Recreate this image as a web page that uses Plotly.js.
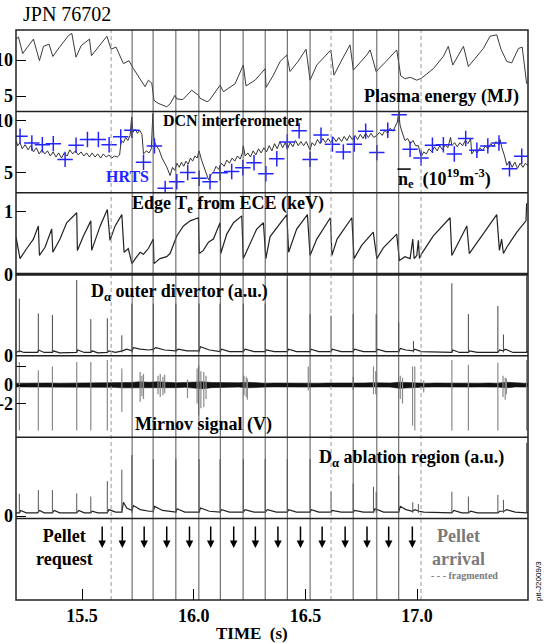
<!DOCTYPE html>
<html><head><meta charset="utf-8">
<script src="https://cdn.plot.ly/plotly-3.0.1.min.js"></script>
<style>html,body{margin:0;padding:0;background:#fff}#chart{width:554px;height:643px}</style>
</head><body><div id="chart"></div>
<script>
// ---------- DATA ----------
const timeTicks = [15.5, 16.0, 16.5, 17.0, 17.5];
const timeTickText = ['15.5', '16.0', '16.5', '17.0', '17.5'];

// Plasma energy (MJ): [time, value]
const energy = [[15.204,12.9],[15.215,13.2],[15.234,10.9],[15.282,12.9],[15.309,9.9],[15.327,11.9],[15.352,12.2],[15.369,10.5],[15.397,11.7],[15.439,13.4],[15.454,13.7],[15.473,10.4],[15.496,12.0],[15.533,12.9],[15.542,10.6],[15.611,13.3],[15.630,11.5],[15.652,11.8],[15.685,9.5],[15.710,9.9],[15.730,8.8],[15.782,6.3],[15.797,7.2],[15.812,6.8],[15.822,4.4],[15.840,4.0],[15.879,3.5],[15.894,3.9],[15.916,5.1],[15.924,4.6],[15.951,4.5],[15.991,5.8],[16.021,5.1],[16.028,4.7],[16.060,4.2],[16.070,4.4],[16.118,6.5],[16.133,5.6],[16.185,6.7],[16.222,9.3],[16.234,6.4],[16.275,7.2],[16.320,8.8],[16.324,6.2],[16.355,7.8],[16.387,9.8],[16.417,10.7],[16.431,8.4],[16.467,9.8],[16.503,11.5],[16.521,7.2],[16.551,9.3],[16.614,11.4],[16.628,7.9],[16.663,10.0],[16.700,12.1],[16.715,8.6],[16.775,10.7],[16.790,11.4],[16.817,8.4],[16.861,9.8],[16.909,11.4],[16.927,7.8],[16.947,7.4],[16.969,7.6],[16.999,7.2],[17.021,7.5],[17.073,8.8],[17.118,10.5],[17.140,11.9],[17.160,9.3],[17.208,11.9],[17.230,9.1],[17.297,11.6],[17.327,13.3],[17.357,13.5],[17.376,11.5],[17.402,9.8],[17.424,9.6],[17.454,11.6],[17.471,11.8],[17.491,6.7]];

// DCN interferometer line-averaged density (1e19 m^-3): [time, value]
const dcn = [[15.204,8.1],[15.212,7.6],[15.222,7.9],[15.232,7.3],[15.245,7.7],[15.258,7.2],[15.270,7.6],[15.282,7.0],[15.295,7.4],[15.308,6.8],[15.320,7.2],[15.333,6.8],[15.345,7.1],[15.358,6.6],[15.370,7.0],[15.383,6.5],[15.395,6.9],[15.408,6.4],[15.420,6.9],[15.433,6.6],[15.445,7.2],[15.458,6.8],[15.470,7.1],[15.483,6.7],[15.495,7.0],[15.508,6.6],[15.520,6.9],[15.533,6.5],[15.545,6.9],[15.558,6.5],[15.570,6.8],[15.583,6.4],[15.595,6.8],[15.608,6.5],[15.620,6.7],[15.633,6.4],[15.645,6.6],[15.658,6.5],[15.668,6.7],[15.675,8.1],[15.685,7.9],[15.695,8.4],[15.705,8.1],[15.715,8.6],[15.722,10.4],[15.728,8.9],[15.738,9.2],[15.748,8.8],[15.758,9.1],[15.768,8.7],[15.775,6.8],[15.788,7.1],[15.800,6.9],[15.810,7.3],[15.817,10.75],[15.822,8.1],[15.832,7.6],[15.845,7.2],[15.858,6.4],[15.870,5.9],[15.880,5.5],[15.894,4.7],[15.905,5.5],[15.915,5.2],[15.925,5.9],[15.935,5.5],[15.945,6.0],[15.955,5.6],[15.965,6.1],[15.975,5.8],[15.985,6.4],[15.995,6.1],[16.005,6.6],[16.015,6.4],[16.024,7.1],[16.035,6.2],[16.045,5.6],[16.055,4.9],[16.066,4.3],[16.078,4.8],[16.090,5.1],[16.100,5.6],[16.112,5.3],[16.124,5.9],[16.136,5.6],[16.148,6.2],[16.160,5.9],[16.172,6.4],[16.184,6.1],[16.196,6.6],[16.208,6.3],[16.218,6.9],[16.222,7.6],[16.230,6.6],[16.242,6.9],[16.254,6.5],[16.266,7.1],[16.278,6.7],[16.290,7.3],[16.302,6.9],[16.314,7.4],[16.326,7.0],[16.338,7.6],[16.350,7.1],[16.362,7.8],[16.374,7.3],[16.386,8.0],[16.398,7.4],[16.410,7.9],[16.420,7.3],[16.432,7.9],[16.444,7.5],[16.456,8.1],[16.468,7.6],[16.480,8.0],[16.492,7.6],[16.504,8.0],[16.516,7.4],[16.521,7.2],[16.530,7.9],[16.542,7.6],[16.554,8.2],[16.566,7.8],[16.578,8.3],[16.590,7.9],[16.602,8.3],[16.614,7.9],[16.626,8.4],[16.638,8.0],[16.650,8.4],[16.662,8.0],[16.674,8.5],[16.686,8.1],[16.698,8.6],[16.710,8.2],[16.722,8.6],[16.734,8.2],[16.746,8.7],[16.758,8.3],[16.770,8.8],[16.782,8.4],[16.794,8.8],[16.806,8.4],[16.820,8.6],[16.832,8.9],[16.844,8.6],[16.856,9.1],[16.868,8.8],[16.880,9.3],[16.892,9.0],[16.904,9.6],[16.912,9.9],[16.918,10.9],[16.924,9.6],[16.932,9.0],[16.946,8.1],[16.958,8.3],[16.970,7.8],[16.982,8.1],[16.994,7.6],[17.006,7.6],[17.018,6.5],[17.030,7.0],[17.042,6.8],[17.054,7.3],[17.066,7.0],[17.078,7.5],[17.090,7.1],[17.102,7.6],[17.114,7.2],[17.126,7.7],[17.138,7.4],[17.150,8.4],[17.156,7.6],[17.168,7.9],[17.180,7.5],[17.192,7.9],[17.204,7.6],[17.216,8.1],[17.228,7.8],[17.240,8.3],[17.245,6.8],[17.258,7.2],[17.270,6.9],[17.282,7.4],[17.294,7.1],[17.306,7.6],[17.318,7.3],[17.330,7.8],[17.342,7.5],[17.354,8.0],[17.366,7.7],[17.372,8.2],[17.380,7.4],[17.392,6.6],[17.402,5.7],[17.414,6.1],[17.426,5.5],[17.438,6.0],[17.450,5.4],[17.462,5.9],[17.474,5.5],[17.486,5.9],[17.498,5.6]];

// HRTS density points
const hrtsTime = [15.222,15.275,15.322,15.371,15.424,15.473,15.524,15.573,15.621,15.673,15.723,15.775,15.824,15.872,15.924,15.973,16.024,16.073,16.118,16.170,16.220,16.270,16.323,16.372,16.419,16.472,16.521,16.570,16.621,16.670,16.719,16.770,16.820,16.869,16.920,16.969,17.018,17.069,17.118,17.167,17.218,17.268,17.317,17.367,17.414,17.469];
const hrtsNe = [8.53,7.87,7.7,7.8,6.27,7.65,8.2,8.2,7.7,8.46,9.1,6.0,7.58,3.46,4.1,5.0,4.44,4.1,4.97,5.1,5.46,5.95,4.87,6.34,7.97,9.05,6.27,8.63,7.75,7.0,7.75,9.0,6.93,9.1,10.6,7.25,6.4,7.65,7.7,6.8,8.3,7.16,7.58,7.87,5.36,6.57];

// Edge Te from ECE (keV): [time, value]
const edgeTe = [[15.204,0.59],[15.222,0.25],[15.252,0.41],[15.282,0.56],[15.304,0.77],[15.309,0.30],[15.334,0.43],[15.364,0.72],[15.369,0.35],[15.401,0.56],[15.431,0.82],[15.476,0.98],[15.479,0.38],[15.506,0.61],[15.539,0.85],[15.543,0.38],[15.581,0.77],[15.613,1.03],[15.625,0.54],[15.648,0.77],[15.678,0.95],[15.688,0.35],[15.707,0.41],[15.723,0.17],[15.745,0.28],[15.760,0.35],[15.775,0.32],[15.797,0.41],[15.819,0.56],[15.822,0.17],[15.849,0.25],[15.879,0.28],[15.894,0.33],[15.916,0.54],[15.924,0.61],[15.954,0.77],[15.984,0.85],[16.021,0.90],[16.025,0.33],[16.043,0.38],[16.066,0.51],[16.088,0.56],[16.118,0.82],[16.121,0.33],[16.148,0.64],[16.178,0.82],[16.215,0.93],[16.222,0.25],[16.245,0.43],[16.282,0.72],[16.312,0.82],[16.323,0.25],[16.342,0.60],[16.387,0.80],[16.417,0.95],[16.425,0.35],[16.461,0.72],[16.509,0.95],[16.521,0.30],[16.551,0.56],[16.612,0.90],[16.619,0.30],[16.642,0.56],[16.708,0.90],[16.718,0.25],[16.752,0.46],[16.804,0.67],[16.820,0.25],[16.849,0.42],[16.909,0.64],[16.921,0.22],[16.946,0.28],[16.969,0.25],[16.981,0.56],[16.987,0.25],[16.999,0.30],[17.006,0.54],[17.011,0.25],[17.021,0.33],[17.073,0.61],[17.148,0.90],[17.156,0.30],[17.193,0.56],[17.223,0.77],[17.234,0.33],[17.297,0.64],[17.357,0.95],[17.369,0.38],[17.379,0.56],[17.387,0.33],[17.402,0.43],[17.447,0.67],[17.488,0.85],[17.491,1.13]];

// D-alpha outer divertor (a.u.): baseline [time, value] and ELM spikes [time, peak]
const divBase = [[15.204,0.04],[15.22,0.06],[15.24,0.04],[15.30,0.04],[15.305,0.07],[15.33,0.04],[15.368,0.04],[15.37,0.06],[15.40,0.035],[15.476,0.04],[15.48,0.07],[15.51,0.04],[15.54,0.04],[15.545,0.06],[15.57,0.035],[15.613,0.04],[15.62,0.06],[15.65,0.04],[15.68,0.06],[15.70,0.08],[15.723,0.06],[15.73,0.10],[15.76,0.08],[15.80,0.07],[15.82,0.08],[15.83,0.10],[15.87,0.07],[15.92,0.06],[15.93,0.08],[15.97,0.06],[16.024,0.06],[16.03,0.11],[16.07,0.07],[16.118,0.05],[16.125,0.08],[16.16,0.05],[16.222,0.05],[16.23,0.08],[16.27,0.05],[16.32,0.05],[16.325,0.07],[16.36,0.05],[16.419,0.05],[16.425,0.08],[16.46,0.05],[16.521,0.05],[16.525,0.08],[16.56,0.05],[16.615,0.05],[16.62,0.08],[16.66,0.05],[16.714,0.05],[16.72,0.08],[16.76,0.05],[16.817,0.05],[16.822,0.08],[16.86,0.05],[16.918,0.05],[16.925,0.09],[16.95,0.07],[16.984,0.06],[16.99,0.08],[17.02,0.05],[17.156,0.04],[17.16,0.07],[17.19,0.04],[17.23,0.04],[17.235,0.06],[17.27,0.04],[17.362,0.04],[17.37,0.07],[17.387,0.06],[17.395,0.08],[17.43,0.04],[17.49,0.04],[17.5,0.06]];
const divSpikes = [[15.219,0.70],[15.304,0.52],[15.367,0.50],[15.476,0.93],[15.539,0.45],[15.613,0.46],[15.678,0.25],[15.723,0.64],[15.819,0.64],[15.920,0.64],[16.024,0.64],[16.118,0.64],[16.222,0.64],[16.320,0.64],[16.419,0.95],[16.521,0.51],[16.615,0.49],[16.714,0.51],[16.817,0.51],[16.918,0.41],[16.984,0.18],[17.156,0.89],[17.230,0.51],[17.362,0.61],[17.387,0.26],[17.491,0.98]];

// Mirnov signal (V): noise envelope [time, upper, lower] and spikes [time, top, bottom]
const mirnovEnv = [[15.204,0.2,-0.2],[15.25,0.22,-0.2],[15.30,0.2,-0.22],[15.35,0.22,-0.2],[15.40,0.2,-0.2],[15.45,0.22,-0.22],[15.50,0.2,-0.2],[15.55,0.22,-0.2],[15.60,0.2,-0.22],[15.64,0.25,-0.25],[15.68,0.3,-0.3],[15.72,0.28,-0.3],[15.76,0.35,-0.35],[15.80,0.3,-0.3],[15.84,0.35,-0.35],[15.88,0.3,-0.3],[15.92,0.25,-0.28],[15.96,0.28,-0.25],[16.00,0.3,-0.35],[16.04,0.35,-0.4],[16.08,0.28,-0.28],[16.12,0.25,-0.25],[16.16,0.22,-0.25],[16.20,0.25,-0.22],[16.24,0.3,-0.3],[16.28,0.22,-0.22],[16.32,0.2,-0.22],[16.36,0.22,-0.2],[16.40,0.2,-0.22],[16.44,0.22,-0.2],[16.48,0.2,-0.2],[16.52,0.22,-0.22],[16.56,0.2,-0.2],[16.60,0.22,-0.2],[16.64,0.2,-0.22],[16.68,0.22,-0.2],[16.72,0.2,-0.2],[16.76,0.22,-0.22],[16.80,0.25,-0.25],[16.84,0.2,-0.2],[16.88,0.22,-0.22],[16.92,0.3,-0.35],[16.96,0.25,-0.28],[17.00,0.22,-0.25],[17.04,0.2,-0.22],[17.08,0.22,-0.2],[17.12,0.2,-0.22],[17.16,0.22,-0.2],[17.20,0.2,-0.2],[17.24,0.22,-0.22],[17.28,0.2,-0.2],[17.32,0.22,-0.2],[17.36,0.2,-0.22],[17.40,0.3,-0.3],[17.44,0.22,-0.2],[17.48,0.2,-0.22],[17.50,0.22,-0.2]];
const mirnovSpikes = [[15.219,2.5,-4.9],[15.304,1.6,-4.9],[15.367,2.0,-4.9],[15.476,2.5,-4.9],[15.539,2.5,-4.9],[15.613,2.7,-4.9],[15.678,1.8,-2.9],[15.760,1.4,-1.8],[15.768,1.0,-1.2],[15.775,1.2,-1.5],[15.840,1.0,-1.0],[15.850,1.2,-1.3],[15.862,0.9,-1.1],[15.870,1.1,-0.9],[15.972,0.6,-1.4],[16.015,1.8,-2.0],[16.022,2.1,-3.3],[16.032,1.5,-2.5],[16.045,1.4,-2.4],[16.055,1.0,-1.5],[16.225,1.0,-1.1],[16.235,0.9,-1.3],[16.240,0.7,-1.6],[16.513,2.0,-0.6],[16.714,0.9,-0.5],[16.805,2.0,-1.0],[16.815,1.5,-1.0],[16.925,1.0,-1.5],[16.935,0.8,-2.0],[16.980,2.0,-4.4],[16.990,2.0,-4.9],[17.030,0.5,-0.8],[17.156,2.7,-4.9],[17.230,2.2,-4.9],[17.362,2.4,-4.9],[17.385,1.0,-1.3],[17.395,0.8,-1.6],[17.400,0.7,-1.0],[17.491,2.7,-4.9]];

// D-alpha ablation region (a.u.): baseline and spikes
const ablBase = [[15.204,0.04],[15.22,0.04],[15.225,0.07],[15.25,0.04],[15.30,0.04],[15.31,0.07],[15.33,0.04],[15.367,0.04],[15.375,0.07],[15.40,0.04],[15.476,0.04],[15.485,0.07],[15.51,0.04],[15.539,0.04],[15.545,0.06],[15.57,0.04],[15.613,0.04],[15.62,0.08],[15.65,0.05],[15.678,0.05],[15.685,0.17],[15.70,0.10],[15.723,0.07],[15.73,0.13],[15.76,0.08],[15.80,0.06],[15.819,0.06],[15.825,0.12],[15.86,0.07],[15.92,0.05],[15.925,0.09],[15.96,0.05],[16.024,0.05],[16.03,0.10],[16.07,0.06],[16.118,0.05],[16.125,0.08],[16.16,0.05],[16.222,0.05],[16.23,0.08],[16.27,0.05],[16.32,0.05],[16.33,0.08],[16.37,0.05],[16.419,0.05],[16.425,0.08],[16.46,0.05],[16.521,0.05],[16.527,0.08],[16.56,0.05],[16.615,0.05],[16.62,0.07],[16.66,0.05],[16.714,0.05],[16.72,0.07],[16.76,0.05],[16.805,0.05],[16.812,0.09],[16.85,0.05],[16.918,0.05],[16.925,0.12],[16.95,0.08],[16.98,0.06],[16.99,0.08],[17.01,0.06],[17.03,0.05],[17.156,0.04],[17.165,0.07],[17.20,0.04],[17.23,0.04],[17.24,0.06],[17.27,0.04],[17.362,0.04],[17.37,0.06],[17.39,0.06],[17.40,0.08],[17.44,0.05],[17.49,0.04],[17.50,0.05]];
const ablSpikes = [[15.219,0.275],[15.304,0.32],[15.367,0.32],[15.476,0.28],[15.539,0.24],[15.613,0.43],[15.678,0.57],[15.723,0.75],[15.819,0.7],[15.920,0.7],[16.024,0.7],[16.118,0.7],[16.222,0.7],[16.320,0.7],[16.419,0.7],[16.521,0.7],[16.615,0.3],[16.714,0.4],[16.805,0.36],[16.817,0.3],[16.918,0.5],[16.981,0.17],[17.006,0.15],[17.156,0.3],[17.230,0.24],[17.362,0.26],[17.387,0.2],[17.491,0.9]];

// Pellet timing (s)
const pelletRequest = [15.590,15.680,15.778,15.879,15.981,16.076,16.179,16.276,16.377,16.478,16.575,16.678,16.776,16.873,16.979];
const pelletArrival = [15.724,15.818,15.920,16.023,16.119,16.221,16.320,16.419,16.521,16.714,16.820,16.918];
const pelletFragmented = [15.630,16.615,17.018];

// ---------- BUILD ----------
const FONT = 'Liberation Serif, serif';
const col = (arr, i) => arr.map(r => r[i]);
function spikeXY(list, baseVal, topIdx, botIdx) {
  const x = [], y = [];
  list.forEach(r => {
    x.push(r[0], r[0], null);
    y.push(botIdx === undefined ? baseVal : r[botIdx], r[topIdx], null);
  });
  return {x, y};
}
const divS = spikeXY(divSpikes, 0.04, 1);
const ablS = spikeXY(ablSpikes, 0.04, 1);
const mirS = spikeXY(mirnovSpikes, 0, 1, 2);

const traces = [
  {x: col(energy,0), y: col(energy,1), xaxis:'x', yaxis:'y', mode:'lines', line:{color:'#3a3a3a', width:1}},
  {x: col(dcn,0), y: col(dcn,1), xaxis:'x', yaxis:'y2', mode:'lines', line:{color:'#333', width:1}},
  {x: hrtsTime, y: hrtsNe, xaxis:'x', yaxis:'y2', mode:'markers', marker:{symbol:'cross-thin', size:11, line:{width:1.5, color:'#2424ff'}}},
  {x: col(edgeTe,0), y: col(edgeTe,1), xaxis:'x', yaxis:'y3', mode:'lines', line:{color:'#222', width:1.2}},
  {x: col(divBase,0), y: col(divBase,1), xaxis:'x', yaxis:'y4', mode:'lines', line:{color:'#222', width:1.2}},
  {x: divS.x, y: divS.y, xaxis:'x', yaxis:'y4', mode:'lines', connectgaps:false, line:{color:'#444', width:1}},
  {x: col(mirnovEnv,0), y: col(mirnovEnv,1), xaxis:'x', yaxis:'y5', mode:'lines', line:{color:'#111', width:0.6}},
  {x: col(mirnovEnv,0), y: col(mirnovEnv,2), xaxis:'x', yaxis:'y5', mode:'lines', fill:'tonexty', fillcolor:'#111', line:{color:'#111', width:0.6}},
  {x: mirS.x, y: mirS.y, xaxis:'x', yaxis:'y5', mode:'lines', connectgaps:false, line:{color:'#8a8a8a', width:1.2}},
  {x: col(ablBase,0), y: col(ablBase,1), xaxis:'x', yaxis:'y6', mode:'lines', line:{color:'#222', width:1.2}},
  {x: ablS.x, y: ablS.y, xaxis:'x', yaxis:'y6', mode:'lines', connectgaps:false, line:{color:'#555', width:1}},
  {x: [15.3], y: [0.5], xaxis:'x', yaxis:'y7', mode:'markers', marker:{opacity:0}, hoverinfo:'skip'}
];

const tickFont = {family: FONT, size: 18, color: '#000', weight: 'bold'};
const N = 7;
const B = s => '<b>' + s + '</b>';
function yax(i, range, tickvals, ticktext) {
  return {
    domain: [(N - 1 - i) / N, (N - i) / N], range: range, anchor: 'x',
    tickvals: tickvals, ticktext: ticktext.map(B), ticks: tickvals.length ? 'inside' : '',
    ticklen: 10, tickwidth: 1, tickcolor: '#000', tickfont: tickFont, ticklabelstandoff: 2,
    showgrid: false, zeroline: false, showline: false, fixedrange: true
  };
}

const shapes = [];
// vertical pellet-arrival lines
pelletArrival.forEach(t => shapes.push({type:'line', xref:'x', yref:'paper', x0:t, x1:t, y0:0, y1:1, line:{color:'#555', width:1}}));
pelletFragmented.forEach(t => shapes.push({type:'line', xref:'x', yref:'paper', x0:t, x1:t, y0:0, y1:1, line:{color:'#999', width:1, dash:'4px,3px'}}));
// panel separators and frame
for (let k = 1; k < N; k++) {
  shapes.push({type:'line', xref:'paper', yref:'paper', x0:0, x1:1, y0:k/N, y1:k/N, line:{color:'#222', width: k === 4 ? 3 : 1.5}});
}
shapes.push({type:'rect', xref:'paper', yref:'paper', x0:0, x1:1, y0:0, y1:1, line:{color:'#222', width:1.5}});
// overline of n_e
shapes.push({type:'line', xref:'paper', yref:'paper', x0:0.745, x1:0.771, y0:0.756, y1:0.756, line:{color:'#000', width:1.5}});

function px2x(px) { return (px - 16) / 512; }
function px2y(py) { return (600 - py) / 570; }
function lab(text, px, py, opts) {
  return Object.assign({xref:'paper', yref:'paper', x: px2x(px), y: px2y(py), xanchor:'left', yanchor:'middle', showarrow:false,
    text: B(text), font:{family: FONT, size: 18, color:'#000', weight:'bold'}}, opts || {});
}
const annotations = [
  lab('JPN 76702', 21, 14, {text:'JPN 76702', font:{family: FONT, size: 20, color:'#000'}}),
  lab('Plasma energy (MJ)', 521, 96, {xanchor:'right'}),
  lab('DCN interferometer', 161, 120, {font:{family: FONT, size: 16, color:'#000', weight:'bold'}}),
  lab('HRTS', 104, 176, {font:{family: FONT, size: 16, color:'#2424ff', weight:'bold'}}),
  lab('n<sub>e</sub>  (10<sup>19</sup>m<sup>-3</sup>)', 396, 178),
  lab('Edge T<sub>e</sub> from ECE (keV)', 130, 205),
  lab('D<sub>α</sub> outer divertor (a.u.)', 89, 292),
  lab('Mirnov signal (V)', 133, 425),
  lab('D<sub>α</sub> ablation region (a.u.)', 317, 458),
  lab('Pellet<br>request', 34, 547),
  lab('Pellet<br>arrival', 430, 547, {font:{family: FONT, size: 18, color:'#7a7a7a', weight:'bold'}}),
  lab('- - - fragmented', 429, 575, {font:{family: FONT, size: 10, color:'#7a7a7a', weight:'bold'}}),
  lab('TIME  (s)', 252, 633, {xanchor:'center', font:{family: FONT, size: 17, color:'#000', weight:'bold'}}),
  lab('pit-J2009/3', 538, 581, {text:'pit-J2009/3', xanchor:'center', textangle:-90, font:{family:'Liberation Sans, sans-serif', size:8, color:'#000'}})
];
pelletRequest.forEach(t => annotations.push({
  xref:'x', yref:'y7', x:t, y:0.64, ax:0, ay:-23, axref:'pixel', ayref:'pixel', text:'', showarrow:true,
  arrowhead:2, arrowsize:1, arrowwidth:1.5, arrowcolor:'#000'
}));

const layout = {
  width: 554, height: 643,
  margin: {l:16, r:26, t:30, b:43},
  paper_bgcolor:'#fff', plot_bgcolor:'#fff',
  showlegend: false,
  font: {family: FONT, color:'#000'},
  xaxis: {domain:[0,1], range:[15.204, 17.497], anchor:'y7', tickvals: timeTicks, ticktext: timeTickText.map(B),
    ticks:'inside', ticklen:11, tickwidth:1, tickcolor:'#000', tickfont: tickFont, ticklabelstandoff: 3,
    showgrid:false, zeroline:false, showline:false, fixedrange:true},
  yaxis:  yax(0, [2.86, 14.17], [5, 10], ['5', '10']),
  yaxis2: yax(1, [3.02, 10.93], [5, 10], ['5', '10']),
  yaxis3: yax(2, [0, 1.296], [0, 1], ['0', '1']),
  yaxis4: yax(3, [0, 1.0], [0], ['0']),
  yaxis5: yax(4, [-5.63, 3.17], [2, 0, -2], ['', '0', '-2']),
  yaxis6: yax(5, [-0.03, 0.97], [0], ['0']),
  yaxis7: Object.assign(yax(6, [0, 1], [], []), {showticklabels:false}),
  shapes: shapes,
  annotations: annotations
};

Plotly.newPlot('chart', traces, layout, {displayModeBar:false, staticPlot:true});
</script>
</body></html>
